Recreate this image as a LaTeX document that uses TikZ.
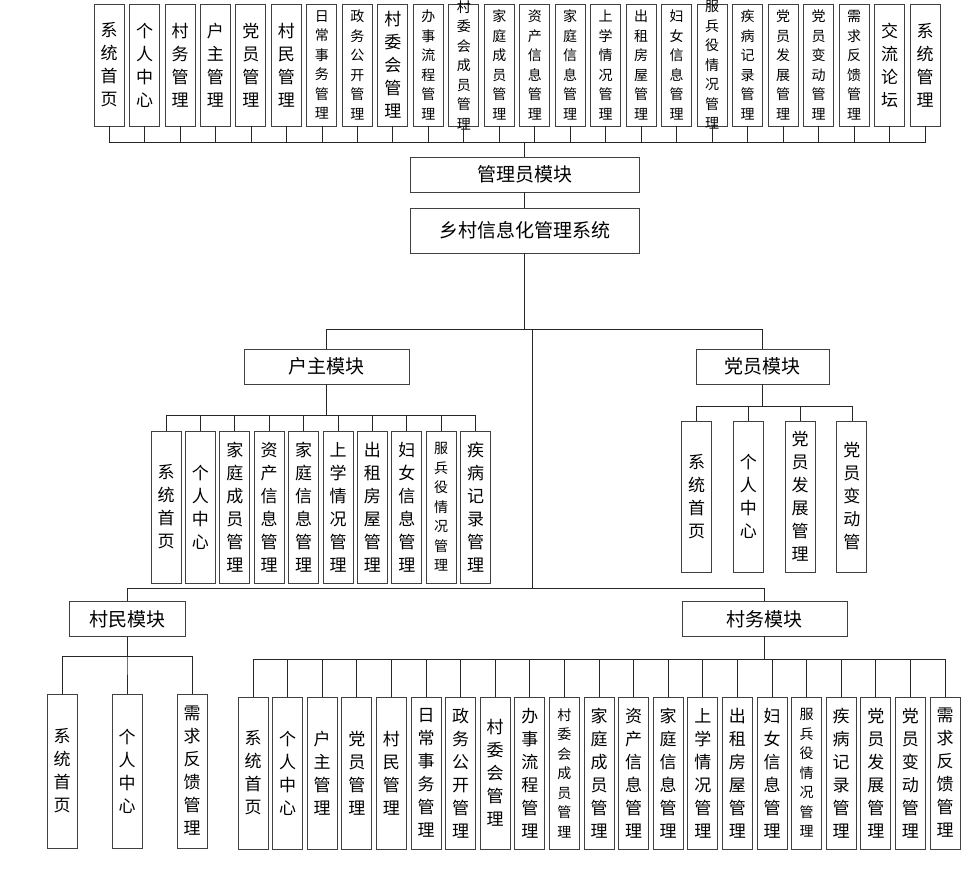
\documentclass[tikz,border=0pt]{standalone}
\usepackage{fontspec}
\setmainfont{Noto Sans CJK SC}

\tikzset{
  module/.style={draw=black!75, line width=0.9pt, minimum height=35pt, inner sep=0pt,
    font=\fontsize{19}{21}\selectfont},
  leaf/.style={draw=black!75, line width=0.9pt, minimum width=30pt, minimum height=#1, inner sep=0pt},
  leaf/.default=152pt,
  vt/.style={align=center, inner sep=0pt, font=\fontsize{17}{23}\selectfont},
  vts/.style={align=center, inner sep=0pt, font=\fontsize{14}{19.5}\selectfont},
  link/.style={line width=0.8pt, black!85}
}

\begin{document}
\begin{tikzpicture}[x=1pt, y=-1pt]
        \useasboundingbox (0,0) rectangle (968,876);

        % main modules
        \node[module, minimum width=229pt] (admin) at (524.5,174.5) {管理员模块};
        \node[module, minimum width=229pt, minimum height=45pt] (sys) at (524.5,230.5) {乡村信息化管理系统};
        \node[module, minimum width=165pt] (hz) at (326.5,366.5) {户主模块};
        \node[module, minimum width=133pt] (dy) at (762.5,366.5) {党员模块};
        \node[module, minimum width=116pt] (cm) at (127,619) {村民模块};
        \node[module, minimum width=165pt] (cw) at (764.5,619) {村务模块};

        % top row (admin)
        \node[leaf=122pt, label={[vt]center:系\\统\\首\\页}] (a1) at (109.0,65) {};
        \node[leaf=122pt, label={[vt]center:个\\人\\中\\心}] (a2) at (144.5,65) {};
        \node[leaf=122pt, label={[vt]center:村\\务\\管\\理}] (a3) at (180.0,65) {};
        \node[leaf=122pt, label={[vt]center:户\\主\\管\\理}] (a4) at (215.4,65) {};
        \node[leaf=122pt, label={[vt]center:党\\员\\管\\理}] (a5) at (250.9,65) {};
        \node[leaf=122pt, label={[vt]center:村\\民\\管\\理}] (a6) at (286.4,65) {};
        \node[leaf=122pt, label={[vts]center:日\\常\\事\\务\\管\\理}] (a7) at (321.9,65) {};
        \node[leaf=122pt, label={[vts]center:政\\务\\公\\开\\管\\理}] (a8) at (357.4,65) {};
        \node[leaf=122pt, label={[vt]center:村\\委\\会\\管\\理}] (a9) at (392.8,65) {};
        \node[leaf=122pt, label={[vts]center:办\\事\\流\\程\\管\\理}] (a10) at (428.3,65) {};
        \node[leaf=122pt, label={[vts]center:村\\委\\会\\成\\员\\管\\理}] (a11) at (463.8,65) {};
        \node[leaf=122pt, label={[vts]center:家\\庭\\成\\员\\管\\理}] (a12) at (499.3,65) {};
        \node[leaf=122pt, label={[vts]center:资\\产\\信\\息\\管\\理}] (a13) at (534.8,65) {};
        \node[leaf=122pt, label={[vts]center:家\\庭\\信\\息\\管\\理}] (a14) at (570.2,65) {};
        \node[leaf=122pt, label={[vts]center:上\\学\\情\\况\\管\\理}] (a15) at (605.7,65) {};
        \node[leaf=122pt, label={[vts]center:出\\租\\房\\屋\\管\\理}] (a16) at (641.2,65) {};
        \node[leaf=122pt, label={[vts]center:妇\\女\\信\\息\\管\\理}] (a17) at (676.7,65) {};
        \node[leaf=122pt, label={[vts]center:服\\兵\\役\\情\\况\\管\\理}] (a18) at (712.2,65) {};
        \node[leaf=122pt, label={[vts]center:疾\\病\\记\\录\\管\\理}] (a19) at (747.6,65) {};
        \node[leaf=122pt, label={[vts]center:党\\员\\发\\展\\管\\理}] (a20) at (783.1,65) {};
        \node[leaf=122pt, label={[vts]center:党\\员\\变\\动\\管\\理}] (a21) at (818.6,65) {};
        \node[leaf=122pt, label={[vts]center:需\\求\\反\\馈\\管\\理}] (a22) at (854.1,65) {};
        \node[leaf=122pt, label={[vt]center:交\\流\\论\\坛}] (a23) at (889.6,65) {};
        \node[leaf=122pt, label={[vt]center:系\\统\\管\\理}] (a24) at (925.0,65) {};

        % householder row
        \node[leaf, label={[vt]center:系\\统\\首\\页}] (h1) at (166.0,507) {};
        \node[leaf, label={[vt]center:个\\人\\中\\心}] (h2) at (200.4,507) {};
        \node[leaf, label={[vt]center:家\\庭\\成\\员\\管\\理}] (h3) at (234.8,507) {};
        \node[leaf, label={[vt]center:资\\产\\信\\息\\管\\理}] (h4) at (269.2,507) {};
        \node[leaf, label={[vt]center:家\\庭\\信\\息\\管\\理}] (h5) at (303.6,507) {};
        \node[leaf, label={[vt]center:上\\学\\情\\况\\管\\理}] (h6) at (338.0,507) {};
        \node[leaf, label={[vt]center:出\\租\\房\\屋\\管\\理}] (h7) at (372.4,507) {};
        \node[leaf, label={[vt]center:妇\\女\\信\\息\\管\\理}] (h8) at (406.8,507) {};
        \node[leaf, label={[vts]center:服\\兵\\役\\情\\况\\管\\理}] (h9) at (441.2,507) {};
        \node[leaf, label={[vt]center:疾\\病\\记\\录\\管\\理}] (h10) at (475.6,507) {};

        % party member row
        \node[leaf=151pt, label={[vt]center:系\\统\\首\\页}] (d1) at (696.5,496.5) {};
        \node[leaf=151pt, label={[vt]center:个\\人\\中\\心}] (d2) at (748.3,496.5) {};
        \node[leaf=151pt, label={[vt]center:党\\员\\发\\展\\管\\理}] (d3) at (800.1,496.5) {};
        \node[leaf=151pt, label={[vt]center:党\\员\\变\\动\\管}] (d4) at (851.9,496.5) {};

        % villager row
        \node[leaf=154pt, label={[vt]center:系\\统\\首\\页}] (m1) at (62,771) {};
        \node[leaf=154pt, label={[vt]center:个\\人\\中\\心}] (m2) at (127,771) {};
        \node[leaf=154pt, label={[vt]center:需\\求\\反\\馈\\管\\理}] (m3) at (192,771) {};

        % village affairs row
        \node[leaf, label={[vt]center:系\\统\\首\\页}] (w1) at (253.0,773) {};
        \node[leaf, label={[vt]center:个\\人\\中\\心}] (w2) at (287.6,773) {};
        \node[leaf, label={[vt]center:户\\主\\管\\理}] (w3) at (322.2,773) {};
        \node[leaf, label={[vt]center:党\\员\\管\\理}] (w4) at (356.8,773) {};
        \node[leaf, label={[vt]center:村\\民\\管\\理}] (w5) at (391.4,773) {};
        \node[leaf, label={[vt]center:日\\常\\事\\务\\管\\理}] (w6) at (426.0,773) {};
        \node[leaf, label={[vt]center:政\\务\\公\\开\\管\\理}] (w7) at (460.6,773) {};
        \node[leaf, label={[vt]center:村\\委\\会\\管\\理}] (w8) at (495.2,773) {};
        \node[leaf, label={[vt]center:办\\事\\流\\程\\管\\理}] (w9) at (529.8,773) {};
        \node[leaf, label={[vts]center:村\\委\\会\\成\\员\\管\\理}] (w10) at (564.4,773) {};
        \node[leaf, label={[vt]center:家\\庭\\成\\员\\管\\理}] (w11) at (599.0,773) {};
        \node[leaf, label={[vt]center:资\\产\\信\\息\\管\\理}] (w12) at (633.6,773) {};
        \node[leaf, label={[vt]center:家\\庭\\信\\息\\管\\理}] (w13) at (668.2,773) {};
        \node[leaf, label={[vt]center:上\\学\\情\\况\\管\\理}] (w14) at (702.8,773) {};
        \node[leaf, label={[vt]center:出\\租\\房\\屋\\管\\理}] (w15) at (737.4,773) {};
        \node[leaf, label={[vt]center:妇\\女\\信\\息\\管\\理}] (w16) at (772.0,773) {};
        \node[leaf, label={[vts]center:服\\兵\\役\\情\\况\\管\\理}] (w17) at (806.6,773) {};
        \node[leaf, label={[vt]center:疾\\病\\记\\录\\管\\理}] (w18) at (841.2,773) {};
        \node[leaf, label={[vt]center:党\\员\\发\\展\\管\\理}] (w19) at (875.8,773) {};
        \node[leaf, label={[vt]center:党\\员\\变\\动\\管\\理}] (w20) at (910.4,773) {};
        \node[leaf, label={[vt]center:需\\求\\反\\馈\\管\\理}] (w21) at (945.0,773) {};

        % connectors
        \coordinate (jn) at (532,329);
        \coordinate (jn2) at (532,588);

        \draw[link] (admin.south) -- (sys.north);
        \draw[link] (sys.south) -- ++(0,76) -| (hz.north);
        \draw[link] (sys.south) -- ++(0,76) -| (dy.north);
        \draw[link] (jn) -- (jn2) -| (cm.north);
        \draw[link] (jn2) -| (cw.north);

        \draw[link] (admin.north) -- ++(0,-14) -| (a1.south);
        \draw[link] (admin.north) -- ++(0,-14) -| (a2.south);
        \draw[link] (admin.north) -- ++(0,-14) -| (a3.south);
        \draw[link] (admin.north) -- ++(0,-14) -| (a4.south);
        \draw[link] (admin.north) -- ++(0,-14) -| (a5.south);
        \draw[link] (admin.north) -- ++(0,-14) -| (a6.south);
        \draw[link] (admin.north) -- ++(0,-14) -| (a7.south);
        \draw[link] (admin.north) -- ++(0,-14) -| (a8.south);
        \draw[link] (admin.north) -- ++(0,-14) -| (a9.south);
        \draw[link] (admin.north) -- ++(0,-14) -| (a10.south);
        \draw[link] (admin.north) -- ++(0,-14) -| (a11.south);
        \draw[link] (admin.north) -- ++(0,-14) -| (a12.south);
        \draw[link] (admin.north) -- ++(0,-14) -| (a13.south);
        \draw[link] (admin.north) -- ++(0,-14) -| (a14.south);
        \draw[link] (admin.north) -- ++(0,-14) -| (a15.south);
        \draw[link] (admin.north) -- ++(0,-14) -| (a16.south);
        \draw[link] (admin.north) -- ++(0,-14) -| (a17.south);
        \draw[link] (admin.north) -- ++(0,-14) -| (a18.south);
        \draw[link] (admin.north) -- ++(0,-14) -| (a19.south);
        \draw[link] (admin.north) -- ++(0,-14) -| (a20.south);
        \draw[link] (admin.north) -- ++(0,-14) -| (a21.south);
        \draw[link] (admin.north) -- ++(0,-14) -| (a22.south);
        \draw[link] (admin.north) -- ++(0,-14) -| (a23.south);
        \draw[link] (admin.north) -- ++(0,-14) -| (a24.south);

        \draw[link] (hz.south) -- ++(0,31) -| (h1.north);
        \draw[link] (hz.south) -- ++(0,31) -| (h2.north);
        \draw[link] (hz.south) -- ++(0,31) -| (h3.north);
        \draw[link] (hz.south) -- ++(0,31) -| (h4.north);
        \draw[link] (hz.south) -- ++(0,31) -| (h5.north);
        \draw[link] (hz.south) -- ++(0,31) -| (h6.north);
        \draw[link] (hz.south) -- ++(0,31) -| (h7.north);
        \draw[link] (hz.south) -- ++(0,31) -| (h8.north);
        \draw[link] (hz.south) -- ++(0,31) -| (h9.north);
        \draw[link] (hz.south) -- ++(0,31) -| (h10.north);

        \draw[link] (dy.south) -- ++(0,22) -| (d1.north);
        \draw[link] (dy.south) -- ++(0,22) -| (d2.north);
        \draw[link] (dy.south) -- ++(0,22) -| (d3.north);
        \draw[link] (dy.south) -- ++(0,22) -| (d4.north);

        \draw[link] (cm.south) -- ++(0,19) -| (m1.north);
        \draw[link] (cm.south) -- ++(0,19) -| (m2.north);
        \draw[link] (cm.south) -- ++(0,19) -| (m3.north);

        \draw[link] (cw.south) -- ++(0,22) -| (w1.north);
        \draw[link] (cw.south) -- ++(0,22) -| (w2.north);
        \draw[link] (cw.south) -- ++(0,22) -| (w3.north);
        \draw[link] (cw.south) -- ++(0,22) -| (w4.north);
        \draw[link] (cw.south) -- ++(0,22) -| (w5.north);
        \draw[link] (cw.south) -- ++(0,22) -| (w6.north);
        \draw[link] (cw.south) -- ++(0,22) -| (w7.north);
        \draw[link] (cw.south) -- ++(0,22) -| (w8.north);
        \draw[link] (cw.south) -- ++(0,22) -| (w9.north);
        \draw[link] (cw.south) -- ++(0,22) -| (w10.north);
        \draw[link] (cw.south) -- ++(0,22) -| (w11.north);
        \draw[link] (cw.south) -- ++(0,22) -| (w12.north);
        \draw[link] (cw.south) -- ++(0,22) -| (w13.north);
        \draw[link] (cw.south) -- ++(0,22) -| (w14.north);
        \draw[link] (cw.south) -- ++(0,22) -| (w15.north);
        \draw[link] (cw.south) -- ++(0,22) -| (w16.north);
        \draw[link] (cw.south) -- ++(0,22) -| (w17.north);
        \draw[link] (cw.south) -- ++(0,22) -| (w18.north);
        \draw[link] (cw.south) -- ++(0,22) -| (w19.north);
        \draw[link] (cw.south) -- ++(0,22) -| (w20.north);
        \draw[link] (cw.south) -- ++(0,22) -| (w21.north);

    \end{tikzpicture}
\end{document}
